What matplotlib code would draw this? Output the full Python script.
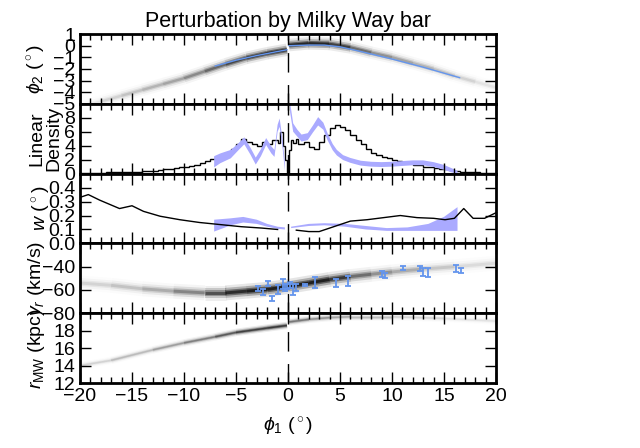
import matplotlib
matplotlib.use('Agg')
import matplotlib.pyplot as plt
from matplotlib.collections import LineCollection
import numpy as np

plt.rcParams['font.family'] = ['Liberation Sans', 'DejaVu Sans']
plt.rcParams['mathtext.fontset'] = 'custom'
plt.rcParams['mathtext.rm'] = 'Liberation Sans'
plt.rcParams['mathtext.it'] = 'Liberation Sans:italic'
plt.rcParams['mathtext.fallback'] = 'cm'
plt.rcParams['font.size'] = 14

# ---- phi2 panel: simulated track (gray) and model track (blue)
trk1_phi1 = [-20, -18, -16, -14, -12, -10, -8, -6, -4, -2, -0.1, np.nan,
             0.1, 2, 4, 6, 8, 10, 12, 14, 16, 18, 20]
trk1_phi2 = [-5.3, -4.8, -4.3, -3.8, -3.3, -2.8, -2.2, -1.6, -1.05, -0.65, -0.35, np.nan,
             0.05, 0.2, 0.15, -0.15, -0.6, -1.0, -1.5, -2.0, -2.6, -3.1, -3.6]
trk1_int = [0.05, 0.1, 0.15, 0.2, 0.25, 0.3, 0.45, 0.6, 0.8, 0.9, 0.95, 0,
            0.9, 1.0, 0.9, 0.6, 0.4, 0.3, 0.25, 0.2, 0.15, 0.1, 0.05]
mod_phi1 = [-7, -5, -3, -1, -0.1, np.nan, 0.1, 2, 3.5, 5, 7, 10, 13, 16.5]
mod_phi2 = [-1.75, -1.25, -0.85, -0.5, -0.35, np.nan, 0.0, 0.05, 0.05, -0.1, -0.5, -1.15, -1.85, -2.75]

# ---- linear density histogram
dens_edges = ([-20 + 0.5 * i for i in range(38)] +
              [-1.0, -0.75, -0.5, -0.3, -0.1, 0.1, 0.3, 0.5, 0.75] +
              [1.0 + 0.5 * i for i in range(39)])
dens_vals = [0.1, 0.1, 0.12, 0.15, 0.15, 0.2, 0.2, 0.22, 0.25, 0.25, 0.3, 0.3,
             0.35, 0.4, 0.45, 0.55, 0.6, 0.7, 0.8, 0.9, 1.0, 1.1, 1.3, 1.5,
             1.8, 2.1, 2.4, 2.7, 3.0, 3.5, 4.2, 5.0, 4.6, 4.3, 4.0, 4.6, 4.2, 4.8,
             4.4, 6.0, 4.0, 2.0, 0.0, 3.4, 4.8, 4.4, 5.0,
             4.3, 4.5, 3.8, 3.5, 4.5, 5.6, 6.6, 7.0, 6.7, 6.2, 5.6, 4.8, 4.2, 3.5,
             3.0, 2.7, 2.4, 2.2, 2.0, 1.8, 1.6, 1.5, 1.3, 1.2, 1.0, 0.9, 0.8, 0.7,
             0.6, 0.5, 0.4, 0.3, 0.3, 0.2, 0.2, 0.15, 0.1, 0.1]
# model density band
band_phi1 = [-7.1, -6.5, -5.5, -4.8, -4.2, -3.6, -3.1, -2.6, -2.1, -1.6, -1.3, -1.0, -0.8, -0.5, -0.3, np.nan,
             0.2, 0.5, 0.9, 1.3, 1.9, 2.4, 2.9, 3.4, 3.8, 4.3, 4.7, 5.3, 6.0, 7.0, 8.0, 9.0,
             10.0, 11.0, 12.0, 13.0, 14.0, 15.0, 15.7, 16.3]
band_mid = [1.7, 2.2, 2.8, 3.8, 4.7, 3.2, 1.8, 3.0, 4.6, 3.4, 2.9, 6.5, 7.3, 4.0, 1.0, np.nan,
            9.5, 6.6, 5.8, 5.1, 5.3, 6.4, 7.5, 6.8, 5.3, 3.8, 3.0, 2.3, 1.9, 1.5, 1.35, 1.3,
            1.35, 1.45, 1.55, 1.55, 1.3, 0.9, 0.5, 0.2]
band_err = [0.8, 0.7, 0.6, 0.5, 0.5, 0.5, 0.5, 0.5, 0.5, 0.5, 0.5, 0.5, 0.6, 0.6, 0.6, np.nan,
            0.7, 0.6, 0.5, 0.5, 0.5, 0.5, 0.6, 0.5, 0.5, 0.45, 0.4, 0.35, 0.35, 0.35, 0.35, 0.35,
            0.35, 0.35, 0.35, 0.35, 0.35, 0.35, 0.3, 0.2]

# ---- width panel
w_phi1 = [-20, -19.2, -18.1, -16.2, -15.0, -13.9, -12.3, -10.4, -8.5, -6.5, -4.5, -2.5, -1.0, np.nan,
          0.8, 2.0, 3.0, 4.4, 6.0, 7.6, 9.2, 10.8, 12.4, 14.0, 15.1, 16.0, 16.9, 17.8, 18.9, 20.0]
w_val = [0.33, 0.35, 0.31, 0.25, 0.27, 0.23, 0.195, 0.17, 0.15, 0.135, 0.12, 0.11, 0.10, np.nan,
         0.095, 0.085, 0.085, 0.12, 0.16, 0.17, 0.185, 0.20, 0.185, 0.18, 0.17, 0.18, 0.25, 0.18, 0.18, 0.22]
wb_phi1 = [-7.1, -5.5, -4.3, -3.0, -2.0, -1.0, -0.3, np.nan,
           0.3, 2.0, 3.5, 5.5, 7.5, 9.5, 11.5, 13.5, 15.0, 16.3]
wb_lo = [0.085, 0.13, 0.15, 0.14, 0.12, 0.105, 0.10, np.nan,
         0.11, 0.125, 0.13, 0.12, 0.10, 0.09, 0.09, 0.09, 0.09, 0.09]
wb_hi = [0.17, 0.18, 0.19, 0.17, 0.14, 0.12, 0.115, np.nan,
         0.12, 0.14, 0.145, 0.14, 0.125, 0.11, 0.115, 0.14, 0.19, 0.26]

# ---- radial velocity panel
trk4_phi1 = [-20, -17, -14, -11, -8, -6, -4, -2, 0, 2, 4, 6, 8, 10, 13, 16, 20]
trk4_vr = [-54, -56, -59, -61, -62.5, -62.5, -61, -59.5, -57, -54, -51, -48.5, -46.5, -44.5, -42, -40, -37]
trk4_int = [0.1, 0.15, 0.2, 0.3, 0.5, 0.8, 1.0, 1.0, 1.0, 1.0, 1.0, 0.6, 0.4, 0.3, 0.2, 0.12, 0.08]
obs_phi1 = [-2.85, -2.4, -1.9, -1.5, -1.0, -0.5, -0.3, -0.1, 0.15, 0.5, 0.8, 1.6, 2.6, 4.6, 5.8,
            9.0, 9.3, 11.1, 12.7, 13.0, 13.5, 16.2, 16.6]
obs_vr = [-58.8, -62, -54.5, -67.4, -59.7, -55, -57.5, -57, -56, -59.7, -58, -55.5, -53.7, -54, -52.3,
          -46.6, -47.5, -41.2, -41.5, -44.6, -45, -41.7, -43.5]
obs_err = [2.5, 2.5, 2, 2.5, 4, 4.5, 3, 2, 2.5, 5, 3, 1, 5, 3.5, 4,
           2.5, 2.5, 2, 2, 3.5, 4, 3, 2]

# ---- galactocentric distance panel
trk5_phi1 = [-20, -17, -13, -10, -7, -5, -2, -0.1, np.nan, 0.1, 2, 4, 6, 10, 15, 20]
trk5_r = [14.0, 14.6, 15.8, 16.6, 17.3, 17.8, 18.3, 18.6, np.nan, 19.0, 19.3, 19.5, 19.6, 19.6, 19.4, 19.1]
trk5_int = [0.1, 0.15, 0.25, 0.35, 0.5, 0.7, 0.8, 0.8, 0, 0.5, 0.4, 0.3, 0.25, 0.15, 0.1, 0.06]


def track(ax, x, y, inten, width):
    # draw a blurry gray stream track as stacked translucent line collections
    x = np.asarray(x, float)
    y = np.asarray(y, float)
    inten = np.asarray(inten, float)
    pts = np.column_stack([x, y])
    segs, alph = [], []
    for i in range(len(x) - 1):
        if np.isnan(x[i]) or np.isnan(x[i + 1]):
            continue
        segs.append([pts[i], pts[i + 1]])
        alph.append(0.5 * (inten[i] + inten[i + 1]))
    alph = np.array(alph)
    for lw, a in [(width * 1.8, 0.1), (width * 1.2, 0.25), (width * 0.7, 0.45), (width * 0.35, 0.65)]:
        cols = np.zeros((len(segs), 4))
        cols[:, 3] = a * alph
        ax.add_collection(LineCollection(segs, colors=cols, linewidths=lw, capstyle='butt',
                                         joinstyle='round'))


fig, axes = plt.subplots(5, 1, sharex=True, figsize=(6.4, 4.48), dpi=100)
fig.subplots_adjust(left=0.125, right=0.775, top=0.924, bottom=0.145, hspace=0)

blue = '#6495ed'
lav = '#aaaaff'

ax = axes[0]
track(ax, trk1_phi1, trk1_phi2, trk1_int, 5)
ax.plot(mod_phi1, mod_phi2, color=blue, lw=1)
ax.set_ylim(-5, 1)
ax.set_yticks([-5, -4, -3, -2, -1, 0, 1])
ax.set_ylabel(r'$\phi_2$ ($^\circ$)')
ax.yaxis.set_label_coords(-0.078, 0.5)
ax.set_title('Perturbation by Milky Way bar', fontsize=15.5, pad=5)

ax = axes[1]
ax.stairs(dens_vals, dens_edges, color='k', lw=1)
bm = np.array(band_mid)
be = np.array(band_err)
ax.fill_between(band_phi1, bm - be, bm + be, color=lav, lw=0)
ax.set_ylim(0, 10)
ax.set_yticks([0, 2, 4, 6, 8])
ax.set_ylabel('Linear\nDensity', linespacing=1.0)
ax.yaxis.set_label_coords(-0.042, 0.5)

ax = axes[2]
ax.plot(w_phi1, w_val, color='k', lw=1)
ax.fill_between(wb_phi1, wb_lo, wb_hi, color=lav, lw=0)
ax.set_ylim(0, 0.5)
ax.set_yticks([0.0, 0.1, 0.2, 0.3, 0.4])
ax.set_ylabel(r'$w$ ($^\circ$)')
ax.yaxis.set_label_coords(-0.066, 0.5)

ax = axes[3]
track(ax, trk4_phi1, trk4_vr, trk4_int, 6)
ax.errorbar(obs_phi1, obs_vr, yerr=obs_err, fmt='none', ecolor=blue, elinewidth=1.3,
            capsize=2.5, capthick=1.3)
ax.set_ylim(-80, -20)
ax.set_yticks([-80, -60, -40])
ax.set_ylabel(r'$v_r$ (km/s)')
ax.yaxis.set_label_coords(-0.08, 0.5)

ax = axes[4]
track(ax, trk5_phi1, trk5_r, trk5_int, 3)
ax.set_ylim(12, 20)
ax.set_yticks([12, 14, 16, 18])
ax.set_ylabel(r'$r_{\rm MW}$ (kpc)')
ax.yaxis.set_label_coords(-0.08, 0.5)
ax.set_xlim(-20, 20)
ax.set_xticks([-20, -15, -10, -5, 0, 5, 10, 15, 20])
ax.set_xlabel(r'$\phi_1$ ($^\circ$)', labelpad=8)

for ax in axes:
    ax.axvline(0, color='k', lw=1, ls=(0, (14, 9)))
    ax.set_xticks(np.arange(-20, 21, 1), minor=True)
    ax.tick_params(which='both', direction='in', top=True, right=True, width=1)
    ax.tick_params(which='major', length=8)
    ax.tick_params(which='minor', length=4)
    for sp in ax.spines.values():
        sp.set_linewidth(2)

fig.savefig('out.png', dpi=100)
